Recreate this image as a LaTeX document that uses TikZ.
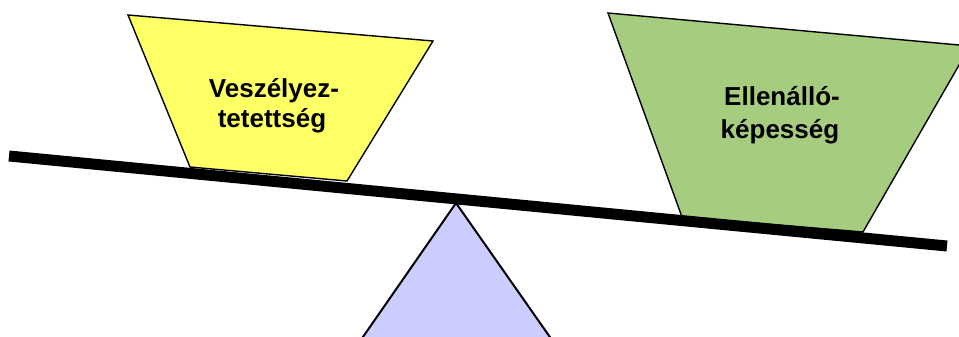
\documentclass[tikz,border=0pt]{standalone}
\usepackage{fontspec}
\setmainfont{Liberation Sans}
\definecolor{panyellow}{HTML}{FFFF66}
\definecolor{pangreen}{HTML}{A6CC80}
\definecolor{fulcrum}{HTML}{CCCCFF}
\begin{document}
\begin{tikzpicture}[x=1pt,y=-1pt,
  pan/.style={draw=black,line width=1.4pt,line join=miter},
  label/.style={font=\bfseries\fontsize{26}{31}\selectfont,align=center,text=black,inner sep=0pt},
  beam/.style={line width=11pt,line cap=butt,draw=black}]
  \useasboundingbox (0,0) rectangle (959,337);
  \clip (0,0) rectangle (959,337);
  % fulcrum
  \draw[fill=fulcrum,line width=2pt] (456,203) -- (340,370) -- (573,370) -- cycle;
  % left pan
  \draw[pan,fill=panyellow] (128,15) -- (433,41) -- (347,181) -- (190,167) -- cycle;
  % right pan
  \draw[pan,fill=pangreen] (608,13) -- (970,46) -- (863,232) -- (682,217) -- cycle;
  % beam
  \coordinate (bl) at (9,156);
  \coordinate (br) at (947,246);
  \draw[beam] (bl) -- (br);
  % labels
  \node[label,anchor=base] (v1) at (274,97) {Veszélyez-};
  \node[label,anchor=base] (v2) at (272,128) {tetettség};
  \node[label,anchor=base] (e1) at (782,106) {Ellenálló-};
  \node[label,anchor=base] (e2) at (780,138) {képesség};
\end{tikzpicture}
\end{document}
